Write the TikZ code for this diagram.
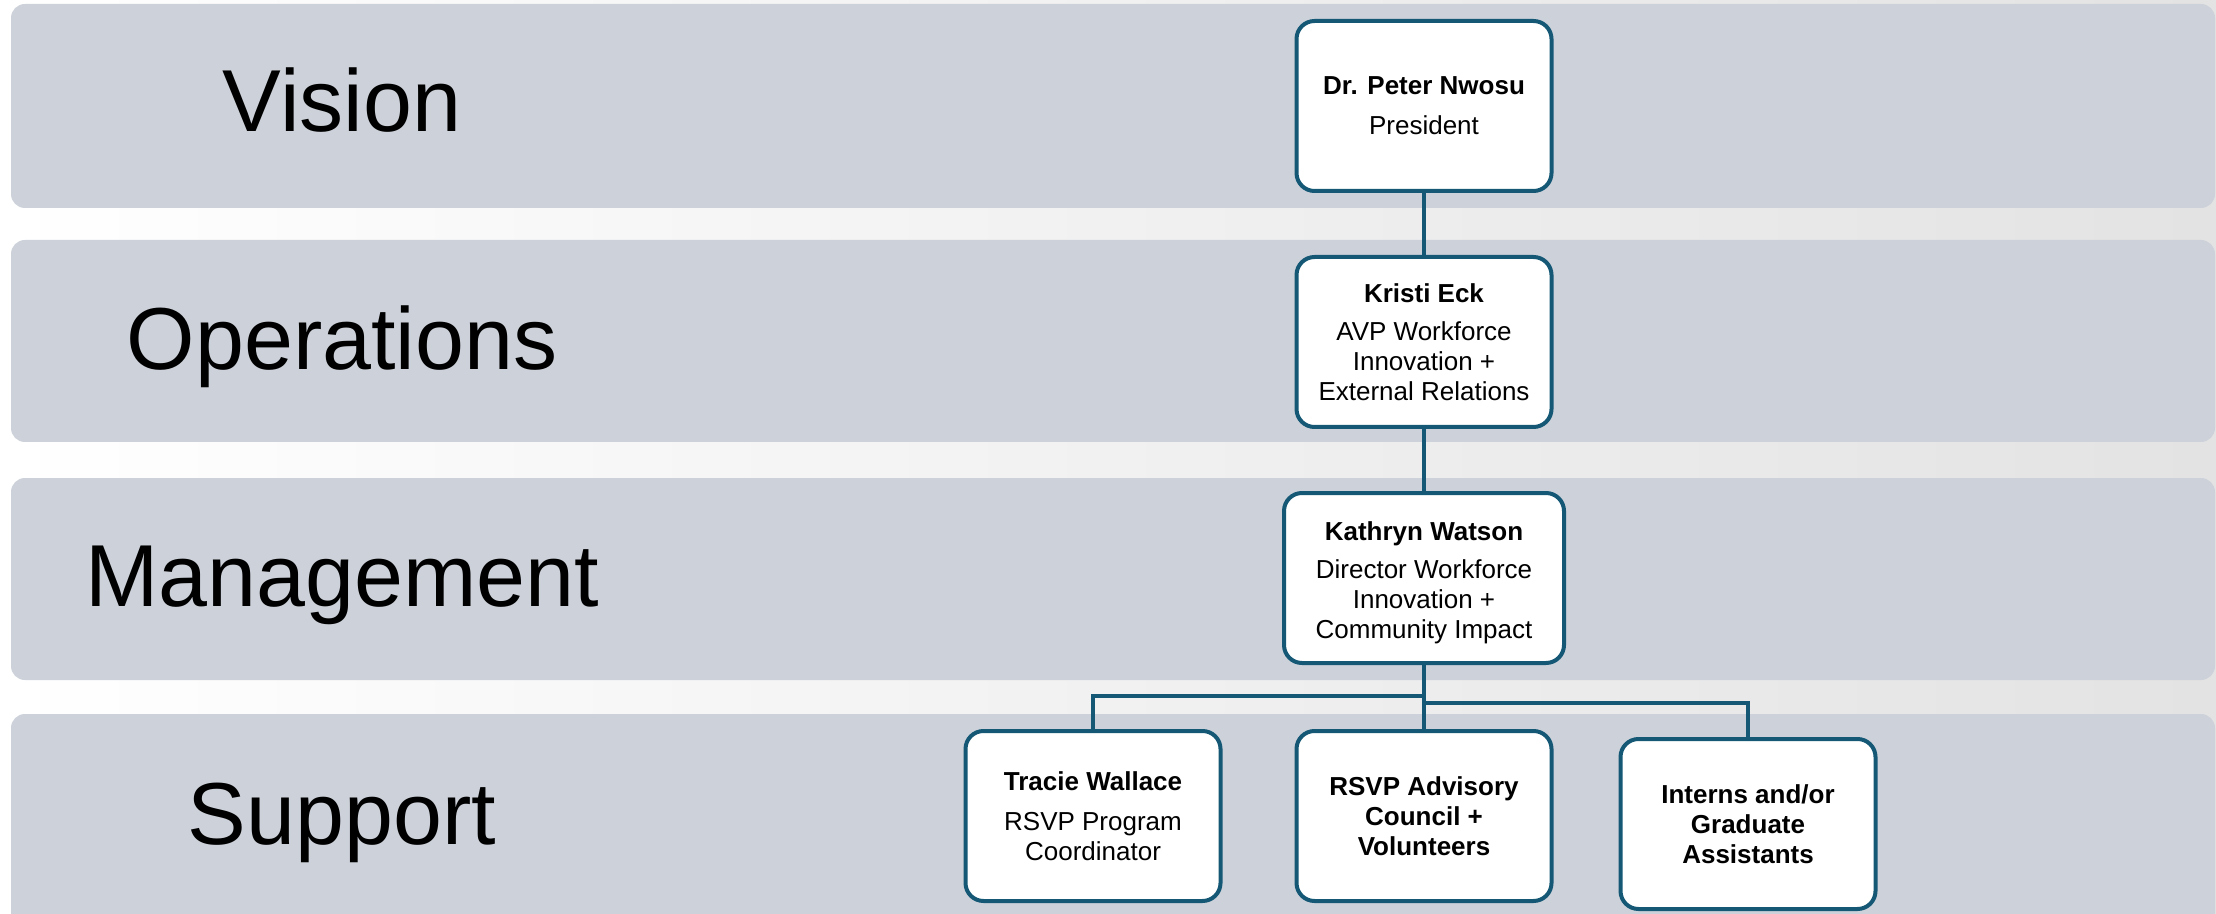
\documentclass[tikz,border=0pt]{standalone}
\usepackage{fontspec}
\setmainfont{Liberation Sans}
\definecolor{band}{HTML}{CDD2DA}
\definecolor{edgec}{HTML}{155876}
\begin{document}
\begin{tikzpicture}[x=0.5pt,y=-0.5pt,
  bandbox/.style={fill=band, draw=none, rounded corners=7pt},
  bandlabel/.style={font=\fontsize{44}{52}\selectfont, text=black, anchor=base, inner sep=0pt},
  person/.style={draw=edgec, line width=2pt, fill=white, rounded corners=9pt, align=center,
    minimum width=127.5pt, minimum height=85pt, inner sep=2pt, font=\fontsize{13}{15}\selectfont},
  link/.style={draw=edgec, line width=1.7pt}]
\useasboundingbox (0,0) rectangle (2216,914);
\clip (0,0) rectangle (2216,914);
\shade[left color=white, middle color=white, right color=black!11] (0,0) rectangle (2216,914);
% bands
\fill[bandbox] (11,4) rectangle (2215,208);
\fill[bandbox] (11,240) rectangle (2215,442);
\fill[bandbox] (11,478) rectangle (2215,680);
\fill[bandbox] (11,714) rectangle (2215,960);
% band labels
\node[bandlabel] (lv) at (342,132) {Vision};
\node[bandlabel] (lo) at (342,370) {Operations};
\node[bandlabel] (lm) at (342,606) {Management};
\node[bandlabel] (ls) at (342,844) {Support};
% people
\node[person] (np) at (1424,106) {\textbf{Dr. Peter Nwosu}\\[5pt]President};
\node[person] (ke) at (1424,342) {\textbf{Kristi Eck}\\[4pt]AVP Workforce\\Innovation +\\External Relations};
\node[person, minimum width=140pt] (kw) at (1424,578) {};
\node[align=center, font=\fontsize{13}{15}\selectfont, inner sep=0pt] (kwt) at (1424,583) {\textbf{Kathryn Watson}\\[4pt]Director Workforce\\Innovation +\\Community Impact};
\node[person] (tw) at (1093,816) {\textbf{Tracie Wallace}\\[5pt]RSVP Program\\Coordinator};
\node[person] (rv) at (1424,816) {\textbf{RSVP Advisory}\\\textbf{Council +}\\\textbf{Volunteers}};
\node[person] (ig) at (1748,824) {\textbf{Interns and/or}\\\textbf{Graduate}\\\textbf{Assistants}};
% connectors
\coordinate (j1) at (1424,696);
\coordinate (j2) at (1424,703);
\draw[link] (np.south) -- (ke.north);
\draw[link] (ke.south) -- (kw.north);
\draw[link] (kw.south) -- (j1) -| (tw.north);
\draw[link] (j1) -- (rv.north);
\draw[link] (j2) -| (ig.north);
\end{tikzpicture}
\end{document}
